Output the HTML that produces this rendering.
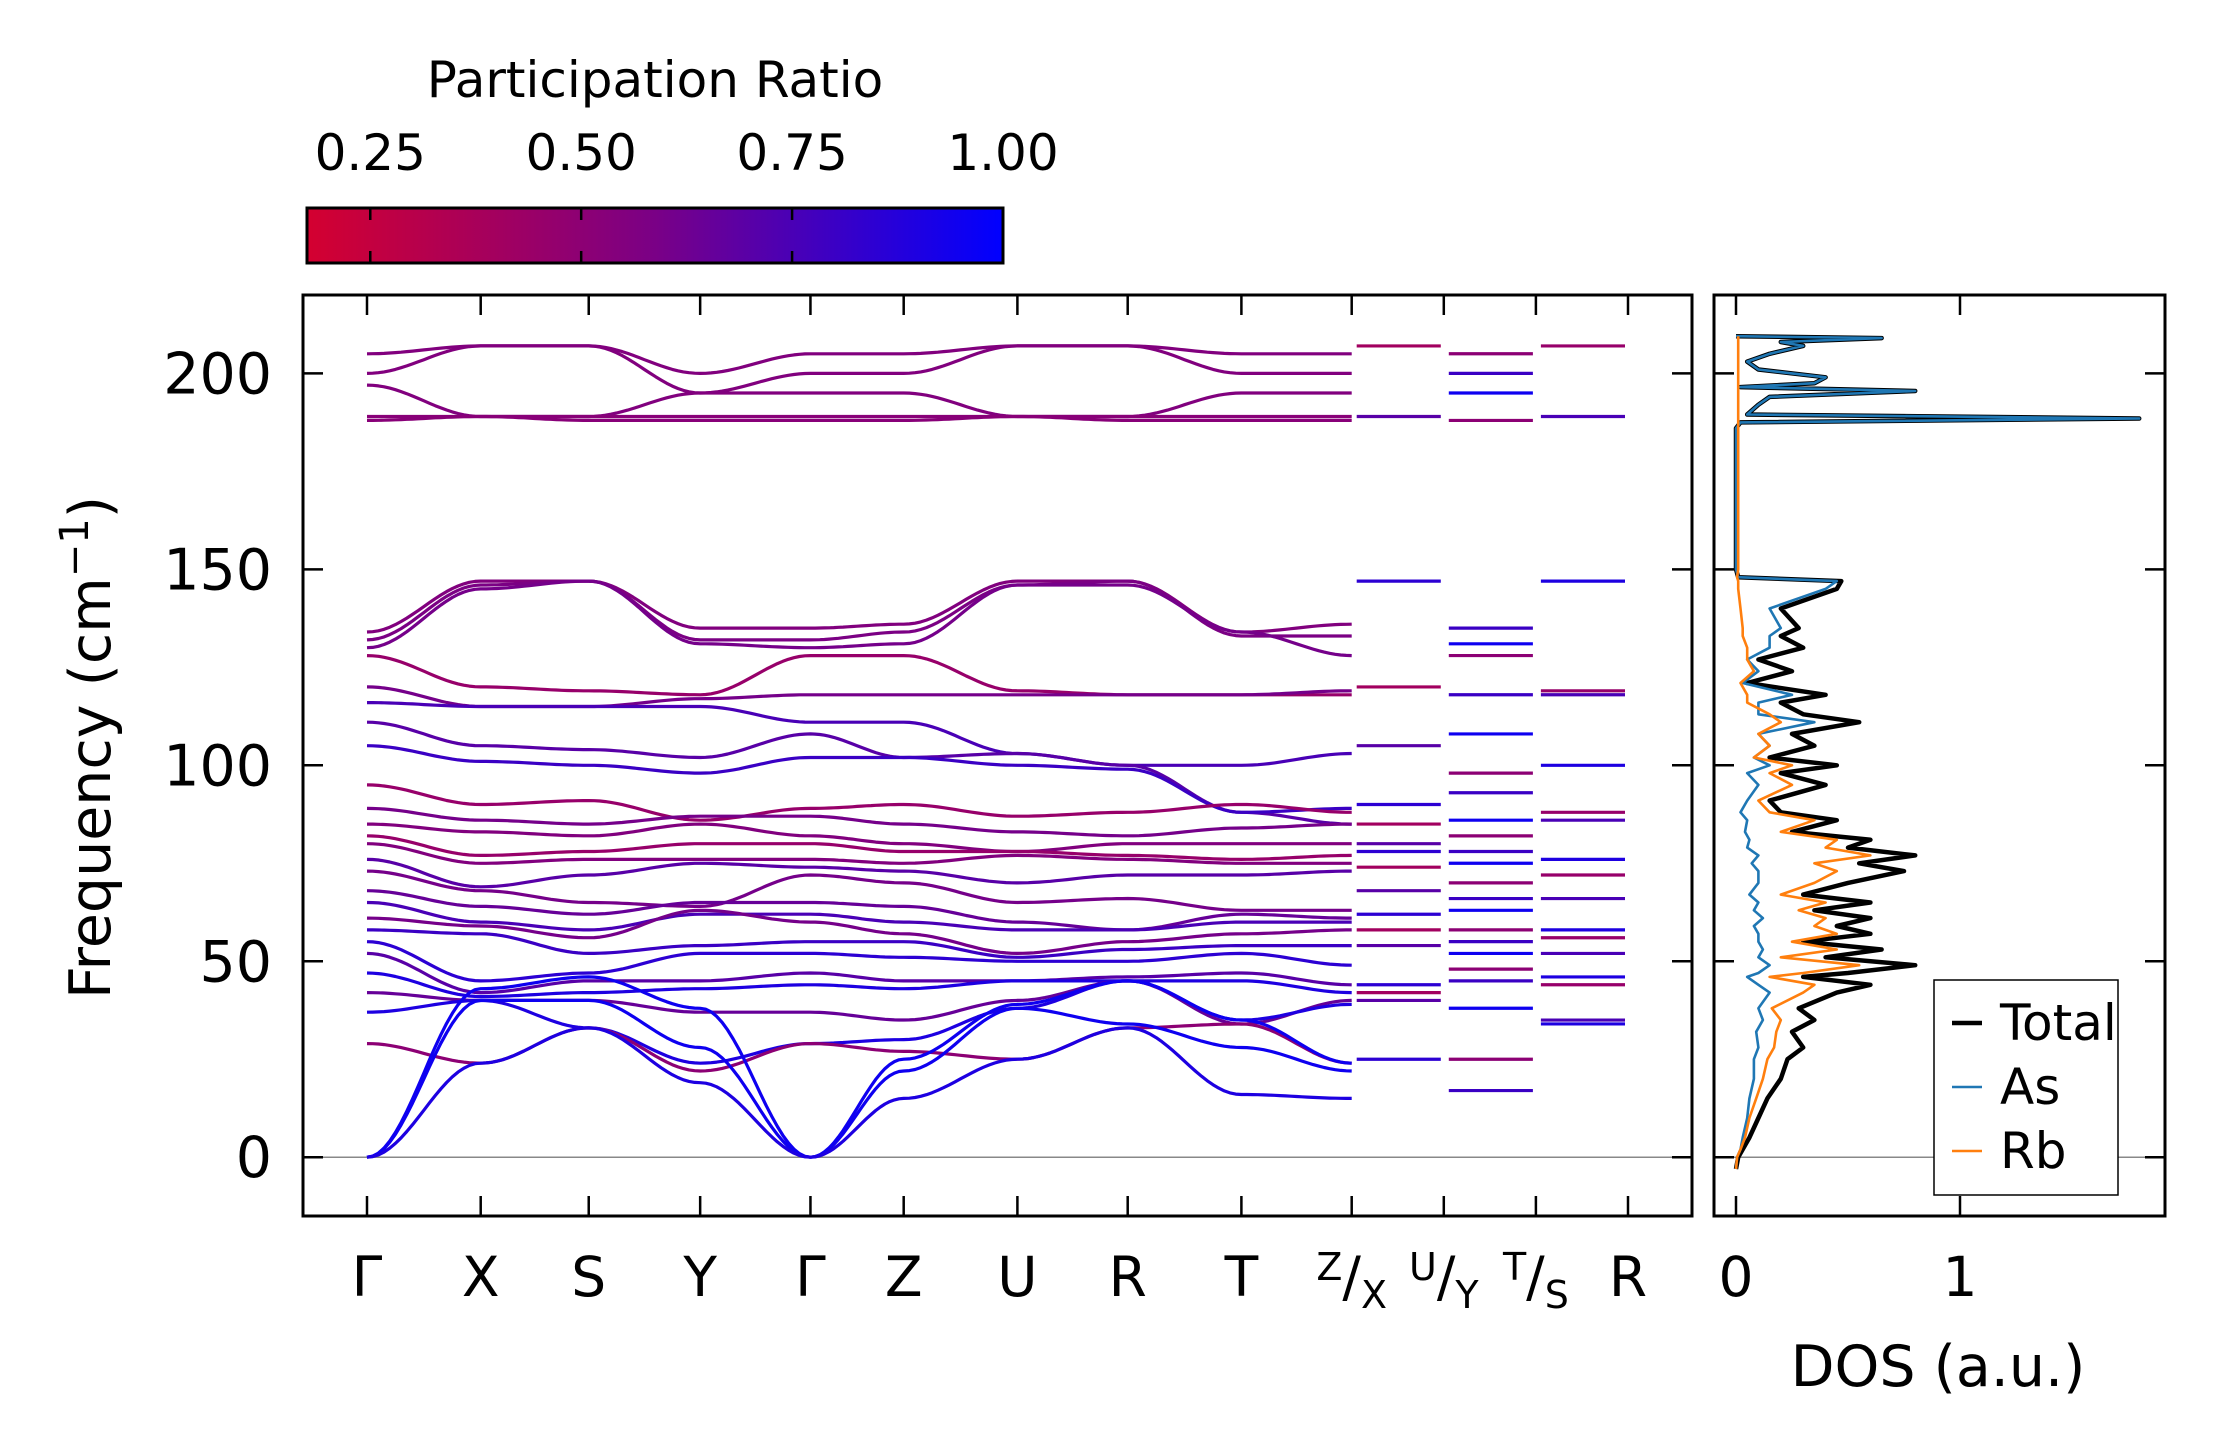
<!DOCTYPE html>
<html><head><meta charset="utf-8"><style>
html,body{margin:0;padding:0;background:#fff;}
svg{display:block;font-family:"DejaVu Sans","Liberation Sans",sans-serif;}
</style></head><body>
<svg id="fig" width="2222" height="1455" viewBox="0 0 2222 1455" xmlns="http://www.w3.org/2000/svg">
<defs>
<linearGradient id="cbgrad" x1="0" x2="1" y1="0" y2="0">
<stop offset="0" stop-color="#d40030"/><stop offset="0.5" stop-color="#7a0086"/><stop offset="1" stop-color="#0000ff"/>
</linearGradient>
<clipPath id="mainclip"><rect x="303" y="295" width="1389" height="921"/></clipPath>
<clipPath id="dosclip"><rect x="1714" y="295" width="451" height="921"/></clipPath>
</defs>
<g id="colorbar"></g>
<g id="bands" clip-path="url(#mainclip)"></g>
<g id="mainaxes"></g>
<g id="dos" clip-path="url(#dosclip)"></g>
<g id="dosaxes"></g>
</svg>
<script>
// ---- data ----
const kLabels = ["Γ","X","S","Y","Γ","Z","U","R","T","Z|X","U|Y","T|S","R"];
const kNodes = [0,1,1.95,2.93,3.9,4.72,5.72,6.69,7.69,8.66,9.47,10.28,11.09];
const pathNodes = 10; // first continuous path Γ..Z
const bandFreqs = [
 [205,207,207,200,205,205,207,207,205,205],
 [200,207,207,195,200,200,207,207,200,200],
 [197,189,189,195,195,195,189,189,195,195],
 [189,189,189,189,189,189,189,189,189,189],
 [188,189,188,188,188,188,189,188,188,188],
 [134,147,147,135,135,136,147,147,134,136],
 [132,146,147,132,132,134,146,147,133,133],
 [130,145,147,131,130,131,146,146,134,128],
 [128,120,119,118,128,128,119,118,118,118],
 [120,115,115,117,118,118,118,118,118,119],
 [116,115,115,115,111,111,103,100,100,103],
 [111,105,104,102,108,102,103,100,88,85],
 [105,101,100,98,102,102,100,99,88,89],
 [95,90,91,86,89,90,87,88,90,88],
 [89,86,85,87,87,85,83,82,84,85],
 [85,83,82,85,82,80,78,80,80,80],
 [82,77,78,80,80,78,78,77,76,77],
 [80,75,76,76,76,75,77,76,75,75],
 [76,69,72,75,74,73,70,72,72,73],
 [73,68,65,64,72,70,65,66,63,63],
 [68,64,62,65,65,64,60,58,62,61],
 [65,60,58,62,62,60,58,58,60,60],
 [61,59,56,63,60,57,52,55,57,58],
 [58,57,52,54,55,55,51,53,54,54],
 [55,45,47,52,52,51,50,50,52,49],
 [52,42,45,45,47,45,45,46,47,44],
 [47,41,42,43,44,43,45,45,45,42],
 [42,40,40,37,37,35,40,45,34,40],
 [37,40,33,24,29,30,38,45,35,39],
 [29,24,33,22,29,27,25,33,34,24],
 [0,43,46,38,0,25,39,45,35,24],
 [0,40,40,28,0,22,38,34,28,22],
 [0,24,33,19,0,15,25,33,16,15]
];
const bandPR = [0.55,0.55,0.55,0.52,0.52,0.55,0.58,0.6,0.45,0.6,0.75,0.7,0.8,0.45,0.6,0.55,0.45,0.55,0.7,0.6,0.65,0.75,0.6,0.8,0.85,0.7,0.9,0.65,0.9,0.5,0.95,0.95,0.9];
const segXU = [207,189,147,120,105,90,85,80,78,74,68,62,58,54,44,42,40,25];
const segYT = [205,200,195,188,135,131,128,118,108,98,93,86,82,78,75,70,66,63,58,55,52,48,45,38,25,17];
const segSR = [207,189,147,119,118,100,88,86,76,72,66,58,56,52,46,44,35,34];
const cbTicks = [0.25,0.5,0.75,1.0];
const yTicks = [0,50,100,150,200];
const dosF =     [-3,0,2,5,10,15,20,25,28,32,35,38,42,44,46,47,49,51,53,55,57,59,61,63,65,67,70,73,75,77,79,81,83,86,88,91,95,98,100,102,105,108,111,113,116,118,121,124,127,130,133,135,140,145,147,148,150,186,187.5,188.5,189.5,192,194,195.5,196.5,197.5,199,201,203,205,207,208,209,209.5];
const dosTotal = [0,0.01,0.03,0.06,0.1,0.14,0.2,0.23,0.3,0.25,0.35,0.28,0.45,0.6,0.3,0.5,0.8,0.4,0.65,0.3,0.6,0.45,0.6,0.35,0.6,0.3,0.5,0.75,0.55,0.8,0.5,0.6,0.25,0.45,0.2,0.15,0.4,0.2,0.45,0.15,0.35,0.25,0.55,0.3,0.2,0.4,0.05,0.25,0.1,0.3,0.2,0.28,0.2,0.45,0.47,0.01,0,0,0.02,1.8,0.05,0.1,0.15,0.8,0.02,0.35,0.4,0.1,0.05,0.15,0.3,0.2,0.65,0];
const dosAs =    [0,0.005,0.02,0.03,0.05,0.06,0.08,0.08,0.1,0.09,0.12,0.1,0.15,0.1,0.05,0.1,0.15,0.1,0.12,0.1,0.1,0.08,0.12,0.08,0.1,0.06,0.1,0.1,0.07,0.1,0.05,0.06,0.04,0.05,0.02,0.05,0.1,0.05,0.15,0.08,0.15,0.1,0.35,0.1,0.1,0.25,0.03,0.1,0.05,0.15,0.15,0.2,0.15,0.4,0.45,0.01,0,0,0.02,1.8,0.05,0.1,0.15,0.8,0.02,0.35,0.4,0.1,0.05,0.15,0.3,0.2,0.65,0];
const dosRb =    [0,0.005,0.02,0.04,0.06,0.09,0.12,0.14,0.17,0.18,0.2,0.16,0.3,0.35,0.15,0.3,0.55,0.2,0.45,0.25,0.45,0.35,0.4,0.28,0.4,0.2,0.35,0.45,0.35,0.6,0.4,0.45,0.2,0.35,0.15,0.1,0.25,0.15,0.25,0.08,0.15,0.1,0.2,0.15,0.05,0.05,0.02,0.08,0.05,0.05,0.03,0.03,0.02,0.01,0.01,0.005,0.01,0.01,0.01,0.01,0.01,0.01,0.01,0.01,0.01,0.01,0.01,0.01,0.01,0.01,0.01,0.01,0.01,0.01];

// ---- geometry ----
const NS="http://www.w3.org/2000/svg";
const MX0=303,MX1=1692,MY0=295,MY1=1216;
const DX0=1714,DX1=2165;
const fMin=-15,fMax=220;
const yS=f=>MY1-(f-fMin)/(fMax-fMin)*(MY1-MY0);
const kx0=367,kx1=1628;
const xS=k=>kx0+(k-kNodes[0])/(kNodes[kNodes.length-1]-kNodes[0])*(kx1-kx0);
const dS=v=>1736+v*224;
function prColor(p){const t=Math.max(0,Math.min(1,(p-0.17)/0.83));
 let r,g,b; if(t<0.5){const u=t/0.5;r=212+(122-212)*u;g=0;b=48+(134-48)*u;}else{const u=(t-0.5)/0.5;r=122*(1-u);g=0;b=134+(255-134)*u;}
 return `rgb(${r|0},${g|0},${b|0})`;}
function el(tag,attrs,parent,txt){const e=document.createElementNS(NS,tag);for(const k in attrs)e.setAttribute(k,attrs[k]);if(txt!==undefined)e.textContent=txt;parent.appendChild(e);return e;}

// ---- colorbar ----
const cb=document.getElementById('colorbar');
const cbX0=307,cbX1=1003,cbY0=208,cbY1=263,cbMin=0.175,cbMax=1.0;
const cbS=v=>cbX0+(v-cbMin)/(cbMax-cbMin)*(cbX1-cbX0);
const cbr=el('rect',{x:cbX0,y:cbY0,width:cbX1-cbX0,height:cbY1-cbY0,fill:'url(#cbgrad)',stroke:'#000','stroke-width':3},cb);


cbTicks.forEach(v=>{const x=cbS(v);
 const t1=el('line',{x1:x,x2:x,y1:cbY0,y2:cbY0+12,stroke:'#000','stroke-width':2.5},cb);
 
 
 const t2=el('line',{x1:x,x2:x,y1:cbY1-12,y2:cbY1,stroke:'#000','stroke-width':2.5},cb);
 
 
 const lb=el('text',{x:x,y:170,'font-size':50,'text-anchor':'middle'},cb,v.toFixed(2));
 
 
});
const cbt=el('text',{x:655,y:97,'font-size':50,'text-anchor':'middle'},cb,'Participation Ratio');



// ---- bands ----
const bg=document.getElementById('bands');
const z0=el('line',{x1:MX0,x2:MX1,y1:yS(0),y2:yS(0),stroke:'#888','stroke-width':1.5},bg);


bandFreqs.forEach((vals,bi)=>{
 let d='';
 for(let j=0;j<pathNodes-1;j++){
  const a=vals[j],b=vals[j+1],xa=xS(kNodes[j]),xb=xS(kNodes[j+1]);
  for(let s=0;s<=20;s++){const t=s/20;const w=(1-Math.cos(Math.PI*t))/2;
   const x=xa+(xb-xa)*t,y=yS(a+(b-a)*w);
   d+=(d===''?'M':'L')+x.toFixed(1)+' '+y.toFixed(1);}
 }
 const p=el('path',{d:d,fill:'none',stroke:prColor(bandPR[bi]),'stroke-width':3.2,'stroke-linejoin':'round'},bg);
 
 
});
[[segXU,9,0.5],[segYT,10,0.6],[segSR,11,0.55]].forEach(([arr,ni,pr])=>{
 const xa=xS(kNodes[ni])+5,xb=xS(kNodes[ni+1])-3;
 arr.forEach((f,i)=>{
  const l=el('line',{x1:xa,x2:xb,y1:yS(f),y2:yS(f),stroke:prColor(i%3===0?pr-0.1:(i%3===1?pr+0.2:pr+0.35)),'stroke-width':3.2},bg);
  
  
 });
});

// ---- main axes ----
const ma=document.getElementById('mainaxes');
const mf=el('rect',{x:MX0,y:MY0,width:MX1-MX0,height:MY1-MY0,fill:'none',stroke:'#000','stroke-width':3},ma);


yTicks.forEach(v=>{const y=yS(v);
 const a=el('line',{x1:MX0,x2:MX0+20,y1:y,y2:y,stroke:'#000','stroke-width':2.5},ma);
 
 
 const b=el('line',{x1:MX1-20,x2:MX1,y1:y,y2:y,stroke:'#000','stroke-width':2.5},ma);
 
 
 const t=el('text',{x:272,y:y+20,'font-size':57,'text-anchor':'end'},ma,String(v));
 
 
});
kLabels.forEach((lab,i)=>{const x=xS(kNodes[i]);
 const a=el('line',{x1:x,x2:x,y1:MY0,y2:MY0+20,stroke:'#000','stroke-width':2.5},ma);
 
 
 const b=el('line',{x1:x,x2:x,y1:MY1-20,y2:MY1,stroke:'#000','stroke-width':2.5},ma);
 
 
 let t;
 if(lab.includes('|')){const [u,lo]=lab.split('|');
  t=el('text',{x:x,y:1296,'font-size':55,'text-anchor':'middle'},ma);
  el('tspan',{'font-size':38,dy:-16},t,u);
  el('tspan',{dy:16},t,'/');
  el('tspan',{'font-size':38,dy:12},t,lo);
 } else t=el('text',{x:x,y:1296,'font-size':55,'text-anchor':'middle'},ma,lab);
 
 
});
const yt=el('text',{x:0,y:0,'font-size':57,'text-anchor':'middle',transform:`translate(110,${(MY0+MY1)/2-8}) rotate(-90)`},ma);
el('tspan',{},yt,'Frequency (cm');
el('tspan',{'font-size':40,dy:-22},yt,'−1');
el('tspan',{dy:22},yt,')');



// ---- DOS ----
const dg=document.getElementById('dos');
const dz=el('line',{x1:DX0,x2:DX1,y1:yS(0),y2:yS(0),stroke:'#888','stroke-width':1.5},dg);


function dosPath(arr,color,w,name){let d='';arr.forEach((v,i)=>{d+=(i?'L':'M')+dS(v).toFixed(1)+' '+yS(dosF[i]).toFixed(1);});
 const p=el('path',{d:d,fill:'none',stroke:color,'stroke-width':w,'stroke-linejoin':'round'},dg);
 
 }
dosPath(dosTotal,'#000',4.5,'dos-total-line');
dosPath(dosAs,'#1f77b4',2.6,'dos-as-line');
dosPath(dosRb,'#ff7f0e',2.6,'dos-rb-line');

const da=document.getElementById('dosaxes');
const df=el('rect',{x:DX0,y:MY0,width:DX1-DX0,height:MY1-MY0,fill:'none',stroke:'#000','stroke-width':3},da);


yTicks.forEach(v=>{const y=yS(v);
 const a=el('line',{x1:DX0,x2:DX0+20,y1:y,y2:y,stroke:'#000','stroke-width':2.5},da);
 
 
 const b=el('line',{x1:DX1-20,x2:DX1,y1:y,y2:y,stroke:'#000','stroke-width':2.5},da);
 
 
});
[0,1].forEach(v=>{const x=dS(v);
 const a=el('line',{x1:x,x2:x,y1:MY0,y2:MY0+20,stroke:'#000','stroke-width':2.5},da);
 
 
 const b=el('line',{x1:x,x2:x,y1:MY1-20,y2:MY1,stroke:'#000','stroke-width':2.5},da);
 
 
 const t=el('text',{x:x,y:1296,'font-size':55,'text-anchor':'middle'},da,String(v));
 
 
});
const dt=el('text',{x:1938,y:1386,'font-size':57,'text-anchor':'middle'},da,'DOS (a.u.)');


const lg=el('g',{},da);


el('rect',{x:1934,y:980,width:184,height:215,fill:'#fff',stroke:'#000','stroke-width':1.5},lg);
[['Total','#000',4.5,1023],['As','#1f77b4',2.6,1087],['Rb','#ff7f0e',2.6,1151]].forEach(([n,c,w,y])=>{
 const ln=el('line',{x1:1952,x2:1982,y1:y,y2:y,stroke:c,'stroke-width':w},lg);
 
 
 const t=el('text',{x:2000,y:y+17,'font-size':50},lg,n);
 
 
});
</script>
</body></html>
